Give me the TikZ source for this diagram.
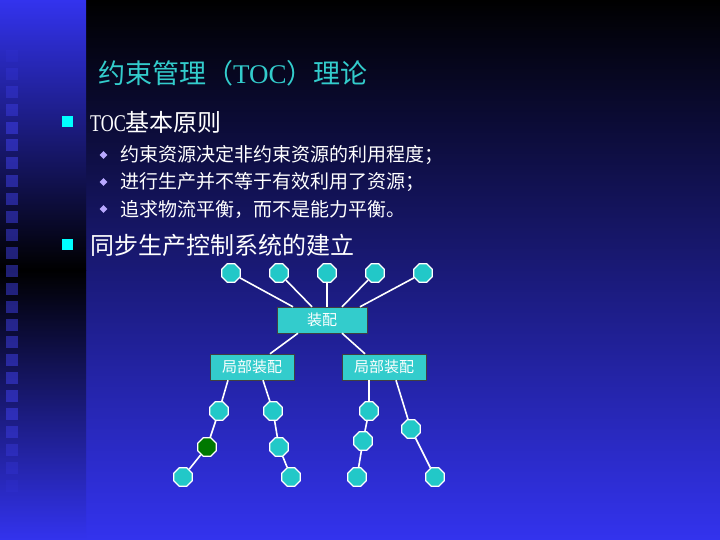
\documentclass[tikz,border=0pt]{standalone}
\usepackage{fontspec}
\setmainfont{Liberation Serif}
\newfontfamily\cjk{Noto Sans CJK SC}
\usetikzlibrary{shapes.geometric}
\definecolor{deepblue}{RGB}{51,51,238}
\definecolor{stripblue}{RGB}{70,70,255}
\definecolor{titlecyan}{RGB}{51,204,204}
\definecolor{octfill}{RGB}{34,200,200}
\definecolor{boxfill}{RGB}{51,204,204}
\definecolor{knotgreen}{RGB}{0,120,0}
\definecolor{lilac}{RGB}{184,168,255}
\definecolor{brightcyan}{RGB}{0,255,255}
\newcommand\halfw[1]{{\rmfamily\scalebox{0.75}[1]{#1}}}

\begin{document}
\begin{tikzpicture}[x=1pt, y=-1pt,
    octa/.style={regular polygon, regular polygon sides=8, minimum size=20pt, inner sep=0pt,
    fill=octfill, draw=white, line width=1.2pt},
    part/.style={rectangle, fill=boxfill, draw=black!75, text=white, inner sep=0pt,
    minimum height=26pt, font=\cjk\fontsize{15}{18}\selectfont},
    link/.style={draw=white, line width=1.6pt},
    sqbullet/.style={rectangle, fill=brightcyan, minimum size=11pt, inner sep=0pt},
    dmbullet/.style={diamond, fill=lilac, minimum size=8pt, inner sep=0pt},
    heading/.style={anchor=west, inner sep=0pt, text=white, font=\cjk\fontsize{24}{28}\selectfont},
    item/.style={anchor=west, inner sep=0pt, text=white, font=\cjk\fontsize{19}{22}\selectfont}]
    \useasboundingbox (0,0) rectangle (720,540);
    \shade[top color=black, bottom color=deepblue] (86,0) rectangle (720,540);
    \shade[top color=deepblue, bottom color=black] (0,0) rectangle (86,270);
    \shade[top color=black, bottom color=deepblue] (0,270) rectangle (86,540);
    \foreach \i [evaluate=\i as \op using {0.45*min(1,(\i+1)/5,(25-\i)/5)}] in {0,...,24}
        \fill[stripblue, opacity=\op] (6,50+17.9*\i) rectangle +(12,12);

    \node (title) [anchor=west, inner sep=0pt, text=titlecyan, font=\fontsize{27}{32}\selectfont] at (98,73)
        {{\cjk 约束管理（}TOC{\cjk ）理论}};

    \node (dot1) [sqbullet] at (67,122) {};
    \node (toc) [heading] at (90,122) {\halfw{TOC}基本原则};
    \node (mark1) [dmbullet] at (103.5,155) {};
    \node (rule1) [item] at (120,155) {约束资源决定非约束资源的利用程度；};
    \node (mark2) [dmbullet] at (103.5,182) {};
    \node (rule2) [item] at (120,182) {进行生产并不等于有效利用了资源；};
    \node (mark3) [dmbullet] at (103.5,209) {};
    \node (rule3) [item] at (120,209) {追求物流平衡，而不是能力平衡。};
    \node (dot2) [sqbullet] at (67,244) {};
    \node (sync) [heading] at (90,245) {同步生产控制系统的建立};

    \foreach \x [count=\n] in {231,279,327,375,423}
        \node (top\n) [octa] at (\x,273) {};
    \node (asm) [part, minimum width=90pt] at (322,320) {装配};
    \node (subL) [part, minimum width=84pt] at (252,367) {局部装配};
    \node (subR) [part, minimum width=84pt] at (384,367) {局部装配};

    \node (l1) [octa] at (219,411) {};
    \node (l2) [octa, fill=knotgreen] at (207,447) {};
    \node (l3) [octa] at (183,477) {};
    \node (m1) [octa] at (273,411) {};
    \node (m2) [octa] at (279,447) {};
    \node (m3) [octa] at (291,477) {};
    \node (r1) [octa] at (369,411) {};
    \node (r2) [octa] at (363,441) {};
    \node (r3) [octa] at (357,477) {};
    \node (s1) [octa] at (411,429) {};
    \node (s2) [octa] at (435,477) {};

    \draw [link] (top1) -- ([xshift=-29pt]asm.north);
    \draw [link] (top2) -- ([xshift=-10pt]asm.north);
    \draw [link] (top3) -- (top3 |- asm.north);
    \draw [link] (top4) -- ([xshift=20pt]asm.north);
    \draw [link] (top5) -- ([xshift=38pt]asm.north);
    \draw [link] ([xshift=-24pt]asm.south) -- ([xshift=18pt]subL.north);
    \draw [link] ([xshift=20pt]asm.south) -- ([xshift=-19pt]subR.north);
    \draw [link] ([xshift=-24pt]subL.south) -- (l1) -- (l2) -- (l3);
    \draw [link] ([xshift=11pt]subL.south) -- (m1) -- (m2) -- (m3);
    \draw [link] (subR.south -| r1) -- (r1) -- (r2) -- (r3);
    \draw [link] ([xshift=12pt]subR.south) -- (s1) -- (s2);
\end{tikzpicture}
\end{document}
